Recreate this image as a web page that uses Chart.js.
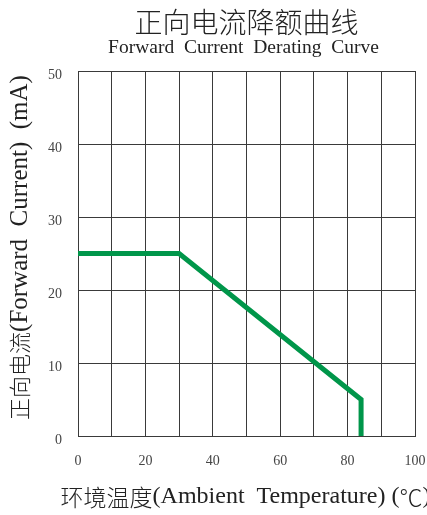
<!DOCTYPE html>
<html>
<head>
<meta charset="utf-8">
<script src="https://cdn.jsdelivr.net/npm/chart.js@4/dist/chart.umd.min.js"></script>
<style>
    html, body { margin: 0; padding: 0; background: #ffffff; }
    #wrap { width: 427px; height: 515px; position: relative; }
</style>
</head>
<body>
<div id="wrap"><canvas id="deratingChart"></canvas></div>
<script>

// ======================================================
// DATA
// ======================================================

const temperatures = [0, 30, 84, 84];

const forwardCurrent = [25, 25, 5, 0];

const xTickLabels = [0, 20, 40, 60, 80, 100];

const yTickLabels = [0, 10, 20, 30, 40, 50];

const titleText = "正向电流降额曲线";

const subtitleText = "Forward  Current  Derating  Curve";

// axis titles are split so the Chinese and Latin parts can be sized apart
const xTitleParts = ["环境温度", "(Ambient  Temperature)", " (", "℃", ")"];

const yTitleParts = ["正向电流", "(Forward  Current)", "  (mA)"];

// ======================================================
// FONTS / COLOURS
// ======================================================

const serif = "'Liberation Serif', 'Noto Sans CJK SC', serif";

const cjk = "'Noto Sans CJK SC', 'Liberation Serif', sans-serif";

const gridColor = "#3a3a3a";

const curveColor = "#00964a";

const textColor = "#222222";

// ======================================================
// TEXT HELPERS
// ======================================================

function isCjk(str) {

    return /[\u3000-\u9fff\uff00-\uffef\u2100-\u214f]/.test(str);

}

function partFont(str, cjkSize, latinSize) {

    return isCjk(str)
        ? "300 " + cjkSize + "px " + cjk
        : latinSize + "px " + serif;

}

function drawParts(ctx, parts, cx, cy, rotation, cjkSize, latinSize) {

    ctx.save();
    ctx.translate(cx, cy);
    ctx.rotate(rotation);
    ctx.textBaseline = "middle";
    ctx.textAlign = "left";
    ctx.fillStyle = textColor;

    let total = 0;

    const widths = parts.map(p => {
        ctx.font = partFont(p, cjkSize, latinSize);
        const w = ctx.measureText(p).width;
        total += w;
        return w;
    });

    let x = -total / 2;

    parts.forEach((p, i) => {
        ctx.font = partFont(p, cjkSize, latinSize);
        ctx.fillText(p, x, 0);
        x += widths[i];
    });

    ctx.restore();

}

// ======================================================
// TITLE PLUGIN (centred over the plot area)
// ======================================================

const headerPlugin = {

    id: "header",

    afterDraw(chart) {

        const ctx = chart.ctx;
        const area = chart.chartArea;
        const cx = (area.left + area.right) / 2;
        const cy = (area.top + area.bottom) / 2;

        ctx.save();
        ctx.fillStyle = textColor;
        ctx.textAlign = "center";
        ctx.textBaseline = "middle";

        ctx.font = "300 28px " + cjk;
        ctx.fillText(titleText, cx, 22);

        ctx.font = "19.5px " + serif;
        ctx.fillText(subtitleText, cx - 3, 48);

        ctx.restore();

        // x axis title
        drawParts(ctx, xTitleParts, cx - 1, 497, 0, 23, 24);

        // y axis title
        drawParts(ctx, yTitleParts, 20, cy - 6, -Math.PI / 2, 22, 25);

    }

};

// ======================================================
// CHART
// ======================================================

const canvas = document.getElementById("deratingChart");

new Chart(canvas, {

    type: "line",

    data: {

        datasets: [{

            data: temperatures.map((t, i) => ({ x: t, y: forwardCurrent[i] })),

            borderColor: curveColor,

            borderWidth: 5,

            borderJoinStyle: "miter",

            pointRadius: 0,

            tension: 0,

            fill: false

        }]

    },

    options: {

        responsive: true,

        maintainAspectRatio: false,

        animation: false,

        layout: {

            padding: { top: 71, right: 12, left: 0, bottom: 0 }

        },

        plugins: {

            legend: { display: false },

            tooltip: { enabled: false }

        },

        scales: {

            x: {

                type: "linear",

                min: 0,

                max: 100,

                afterFit(scale) {
                    scale.height = 79;
                    scale.paddingLeft = 0;
                    scale.paddingRight = 0;
                },

                ticks: {

                    stepSize: 10,

                    autoSkip: false,

                    maxRotation: 0,

                    padding: 17,

                    color: "#444444",

                    font: { family: serif, size: 14 },

                    callback: v => xTickLabels.includes(v) ? String(v) : ""

                },

                grid: {

                    color: gridColor,

                    drawTicks: false

                },

                border: { color: gridColor }

            },

            y: {

                min: 0,

                max: 50,

                afterFit(scale) {
                    scale.width = 78;
                    scale.paddingTop = 0;
                    scale.paddingBottom = 0;
                },

                ticks: {

                    stepSize: 10,

                    padding: 16,

                    labelOffset: 4,

                    color: "#444444",

                    font: { family: serif, size: 14 },

                    callback: v => yTickLabels.includes(v) ? String(v) : ""

                },

                grid: {

                    color: gridColor,

                    drawTicks: false

                },

                border: { color: gridColor }

            }

        }

    },

    plugins: [headerPlugin]

});

</script>
</body>
</html>
